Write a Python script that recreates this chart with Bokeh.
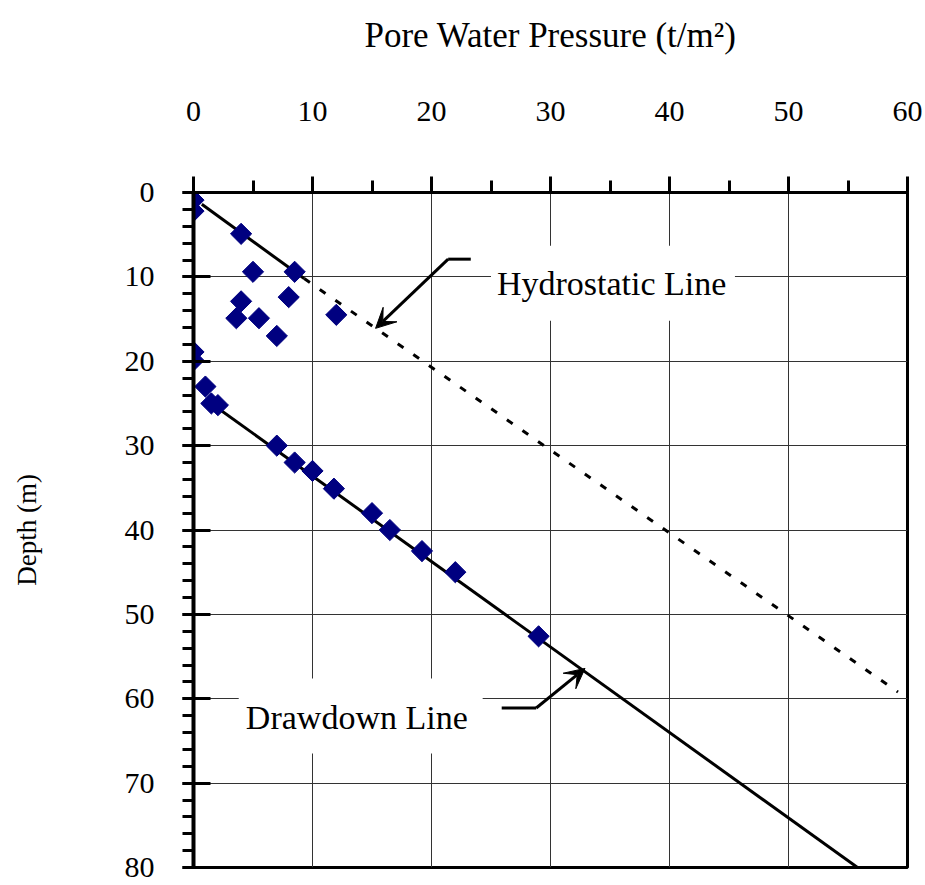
import math
from bokeh.plotting import figure
from bokeh.models import (Range1d, SingleIntervalTicker, Label, BoxAnnotation,
                          Arrow, VeeHead, ColumnDataSource)
from bokeh.embed import file_html
from bokeh.resources import INLINE

# measured points: pore water pressure (t/m2) vs depth (m)
pressure = [0.0, 0.0, 4.0, 5.0, 8.5, 8.0, 4.0, 3.6, 5.5, 12.0, 7.0, 0.0, 0.0,
            1.0, 1.5, 2.05, 7.0, 8.5, 10.0, 11.8, 15.0, 16.5, 19.2, 22.0, 29.0]
depth = [0.9, 2.2, 4.9, 9.4, 9.4, 12.4, 12.9, 14.9, 14.9, 14.5, 17.0, 18.9, 19.9,
         23.0, 25.0, 25.2, 30.0, 32.0, 33.0, 35.1, 38.0, 40.0, 42.5, 45.0, 52.6]

# hydrostatic line (solid upper part, dashed continuation)
hydro_solid_x = [0.7, 9.3]
hydro_solid_y = [1.4, 10.2]
hydro_dash_x = [9.3, 59.2]
hydro_dash_y = [10.2, 59.2]

# drawdown line
draw_x = [1.5, 55.8]
draw_y = [25.0, 80.0]

x_ticks_interval = 10
y_ticks_interval = 10

FONT = "Liberation Serif"

p = figure(frame_width=714, frame_height=675,
           x_range=Range1d(0, 60), y_range=Range1d(80, 0),
           x_axis_location="above",
           output_backend="svg", toolbar_location=None,
           min_border_left=193, min_border_top=192,
           min_border_right=18, min_border_bottom=18)
p.background_fill_color = "white"
p.border_fill_color = "white"
p.outline_line_color = "black"
p.outline_line_width = 3

# axes
xa = p.xaxis[0]
ya = p.yaxis[0]
xa.ticker = SingleIntervalTicker(interval=x_ticks_interval, num_minor_ticks=2)
ya.ticker = SingleIntervalTicker(interval=y_ticks_interval, num_minor_ticks=5)
xa.axis_label = "Pore Water Pressure (t/m²)"
ya.axis_label = "Depth (m)"
for ax in (xa, ya):
    ax.major_label_text_font = FONT
    ax.major_label_text_font_size = "30px"
    ax.major_label_text_color = "black"
    ax.axis_label_text_font = FONT
    ax.axis_label_text_font_style = "normal"
    ax.axis_label_text_color = "black"
    ax.axis_line_color = "black"
    ax.major_tick_line_color = "black"
    ax.minor_tick_line_color = "black"
    ax.major_tick_line_width = 3
    ax.minor_tick_line_width = 3

xa.axis_line_width = 3
xa.major_tick_out = 16
xa.major_tick_in = 0
xa.minor_tick_out = 12
xa.minor_tick_in = 0
xa.major_label_standoff = 56
xa.axis_label_text_font_size = "35px"
xa.axis_label_standoff = 44

ya.axis_line_width = 4
ya.major_tick_out = 11
ya.major_tick_in = 17
ya.minor_tick_out = 11
ya.minor_tick_in = 0
ya.major_label_standoff = 28
ya.axis_label_text_font_size = "27px"
ya.axis_label_standoff = 80

# grids
for g in (p.xgrid[0], p.ygrid[0]):
    g.grid_line_color = "#333333"
    g.grid_line_width = 1

# white boxes behind the annotation texts
p.add_layout(BoxAnnotation(left=25.0, right=45.5, top=6.3, bottom=15.2,
                           fill_color="white", fill_alpha=1.0, line_color=None))
p.add_layout(BoxAnnotation(left=3.8, right=24.3, top=57.6, bottom=66.5,
                           fill_color="white", fill_alpha=1.0, line_color=None))

# lines
p.line(hydro_solid_x, hydro_solid_y, line_color="black", line_width=3)
p.line(hydro_dash_x, hydro_dash_y, line_color="black", line_width=3, line_dash="7 12")
p.line(draw_x, draw_y, line_color="black", line_width=3)

# points
src = ColumnDataSource(dict(x=pressure, y=depth))
p.scatter("x", "y", source=src, marker="square", angle=math.pi / 4, size=15,
          fill_color="#000080", line_color="#000080")

# annotations with arrows
p.line([23.3, 21.4], [7.9, 7.9], line_color="black", line_width=3)
p.add_layout(Arrow(x_start=21.4, y_start=7.9, x_end=15.3, y_end=16.1,
                   line_color="black", line_width=3,
                   end=VeeHead(size=20, fill_color="black", line_color="black")))
p.line([25.9, 28.8], [61.1, 61.1], line_color="black", line_width=3)
p.add_layout(Arrow(x_start=28.8, y_start=61.1, x_end=32.9, y_end=56.4,
                   line_color="black", line_width=3,
                   end=VeeHead(size=20, fill_color="black", line_color="black")))

p.add_layout(Label(x=25.5, y=10.8, text="Hydrostatic Line", text_baseline="middle",
                   text_align="left", text_font=FONT, text_font_size="34px",
                   text_color="black"))
p.add_layout(Label(x=4.4, y=62.2, text="Drawdown Line", text_baseline="middle",
                   text_align="left", text_font=FONT, text_font_size="34px",
                   text_color="black"))

open("out.html", "w").write(file_html(p, INLINE))
